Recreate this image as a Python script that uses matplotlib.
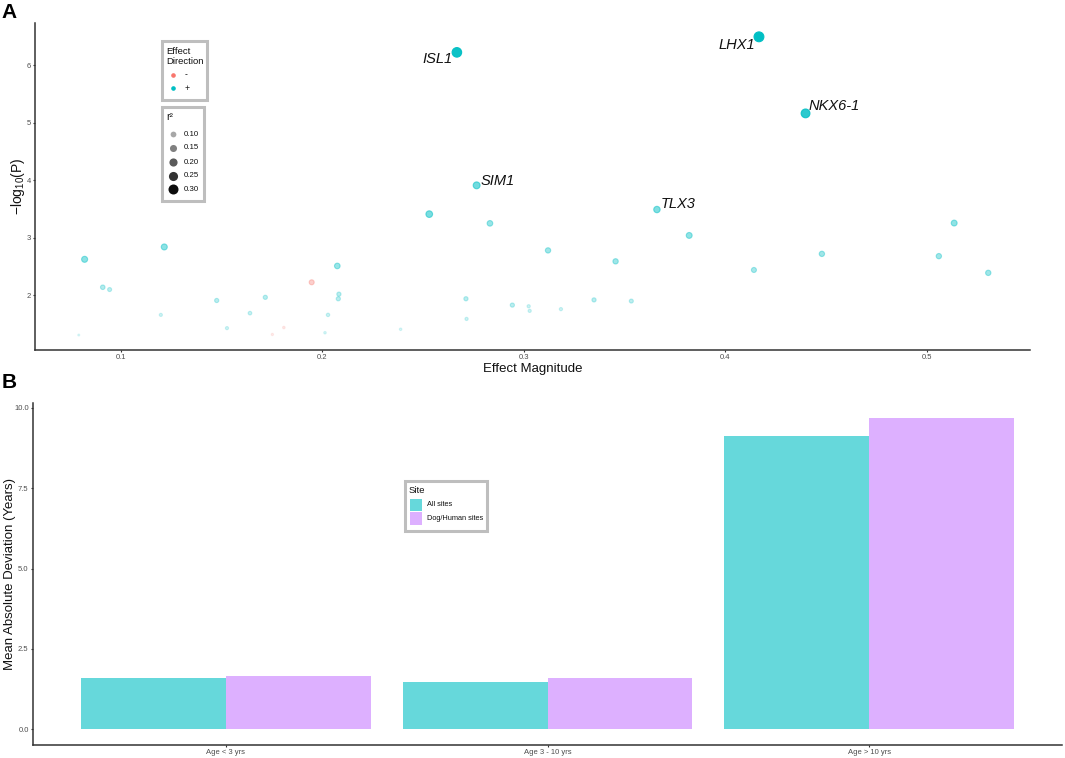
import matplotlib
matplotlib.use('Agg')
import matplotlib.pyplot as plt
import matplotlib.transforms as mtransforms
from matplotlib.patches import Rectangle
from matplotlib.lines import Line2D
import numpy as np

plt.rcParams['font.family'] = ['Liberation Sans', 'DejaVu Sans']
plt.rcParams['mathtext.fontset'] = 'custom'
plt.rcParams['mathtext.rm'] = 'Liberation Sans'
plt.rcParams['mathtext.it'] = 'Liberation Sans:italic'

# ---------------- Panel A data ----------------
pos_effect = [0.0822, 0.1217, 0.0912, 0.0946, 0.1200, 0.0793, 0.1477, 0.1528, 0.1642, 0.1718,
              0.2075, 0.2083, 0.2080, 0.2029, 0.2014, 0.2389, 0.2531, 0.2668, 0.2713, 0.2716,
              0.2766, 0.2832, 0.2943, 0.3024, 0.3029, 0.3120, 0.3184, 0.3348, 0.3455, 0.3533,
              0.3660, 0.3820, 0.4141, 0.4166, 0.4397, 0.4478, 0.5058, 0.5134, 0.5303]
pos_logp = [2.625, 2.84, 2.14, 2.10, 1.66, 1.31, 1.91, 1.43, 1.69, 1.965,
            2.51, 2.02, 1.94, 1.66, 1.35, 1.41, 3.41, 6.22, 1.94, 1.59,
            3.91, 3.25, 1.83, 1.81, 1.73, 2.78, 1.76, 1.92, 2.59, 1.90,
            3.49, 3.04, 2.44, 6.49, 5.16, 2.72, 2.68, 3.255, 2.39]
pos_r2 = [0.135, 0.135, 0.085, 0.070, 0.048, 0.026, 0.075, 0.048, 0.060, 0.075,
          0.120, 0.075, 0.075, 0.055, 0.035, 0.035, 0.160, 0.300, 0.075, 0.050,
          0.170, 0.120, 0.075, 0.050, 0.050, 0.110, 0.050, 0.075, 0.110, 0.070,
          0.150, 0.130, 0.100, 0.316, 0.260, 0.110, 0.110, 0.130, 0.110]
pos_gene = ['', '', '', '', '', '', '', '', '', '',
            '', '', '', '', '', '', '', 'ISL1', '', '',
            'SIM1', '', '', '', '', '', '', '', '', '',
            'TLX3', '', '', 'LHX1', 'NKX6-1', '', '', '', '']

neg_effect = [0.1753, 0.1810, 0.1948]
neg_logp = [1.32, 1.44, 2.226]
neg_r2 = [0.030, 0.035, 0.100]

direction_labels = ['-', '+']
r2_breaks = [0.10, 0.15, 0.20, 0.25, 0.30]
a_xticks = [0.1, 0.2, 0.3, 0.4, 0.5]
a_yticks = [2, 3, 4, 5, 6]

# ---------------- Panel B data ----------------
age_groups = ['Age < 3 yrs', 'Age 3 - 10 yrs', 'Age > 10 yrs']
mad_all_sites = [1.59, 1.47, 9.11]
mad_dog_human = [1.675, 1.60, 9.67]
site_labels = ['All sites', 'Dog/Human sites']
b_yticks = [0.0, 2.5, 5.0, 7.5, 10.0]

CYAN = '#00BFC4'
RED = '#F8766D'
PURPLE = '#C77CFF'
AXCOL = '#333333'
TICKCOL = '#4D4D4D'

W, H = 1065, 758
fig = plt.figure(figsize=(W / 100, H / 100), dpi=100)
px = mtransforms.Affine2D().scale(1 / W, -1 / H).translate(0, 1) + fig.transFigure


def add_axes_px(l, t, r, b):
    return fig.add_axes([l / W, 1 - b / H, (r - l) / W, (b - t) / H])


all_r2 = np.array(pos_r2 + neg_r2)
rmin, rmax = all_r2.min(), all_r2.max()
LW = 0.8
SIZE_K = 14.0


def size_of(r2):
    d_pt = SIZE_K * np.sqrt(np.asarray(r2)) - LW
    return d_pt ** 2


def alpha_of(r2):
    return np.clip(0.12 + 0.88 * (np.asarray(r2, dtype=float) - rmin) / (rmax - rmin), 0.0, 1.0)


def rgba(color, alphas):
    c = np.array(matplotlib.colors.to_rgba(color))
    out = np.tile(c, (len(alphas), 1))
    out[:, 3] = alphas
    return out


# ---------------- Panel A ----------------
axA = add_axes_px(35, 23, 1030, 350)
for eff, lp, r2, col in [(pos_effect, pos_logp, pos_r2, CYAN), (neg_effect, neg_logp, neg_r2, RED)]:
    cols = rgba(col, alpha_of(r2))
    axA.scatter(eff, lp, s=size_of(r2), c=cols, edgecolors=cols, linewidths=LW, zorder=3)

offsets = {'ISL1': (-3, -5, 'right'), 'LHX1': (-3, -6, 'right'), 'NKX6-1': (2, 5, 'left'),
           'SIM1': (3, 3, 'left'), 'TLX3': (3, 4, 'left')}
for e, l, g in zip(pos_effect, pos_logp, pos_gene):
    if g:
        dx, dy, ha = offsets[g]
        axA.annotate(g, (e, l), xytext=(dx, dy), textcoords='offset points',
                     ha=ha, va='center', fontsize=10.5, style='italic', color='#111111')

axA.set_xlim(0.0576, 0.551)
axA.set_ylim(1.05, 6.73)
axA.set_xticks(a_xticks)
axA.set_yticks(a_yticks)
axA.set_xticklabels([f'{v:.1f}' for v in a_xticks])
axA.set_yticklabels([str(v) for v in a_yticks])
axA.set_xlabel('Effect Magnitude', fontsize=9.5, color='#111111')
axA.set_ylabel(r'$-\mathrm{log}_{10}(\mathrm{P})$', fontsize=10, color='#111111')
axA.xaxis.set_label_coords(0.5, -0.058)
axA.xaxis.label.set_va('center')
axA.yaxis.set_label_coords(-0.017, 0.5)
axA.yaxis.label.set_va('center')

# ---------------- Panel B ----------------
axB = add_axes_px(33, 402.7, 1062, 745)
x = np.arange(1, len(age_groups) + 1)
axB.bar(x - 0.225, mad_all_sites, width=0.45, color=CYAN, alpha=0.6, linewidth=0)
axB.bar(x + 0.225, mad_dog_human, width=0.45, color=PURPLE, alpha=0.6, linewidth=0)
axB.set_xlim(0.4, 3.6)
ymax = max(mad_all_sites + mad_dog_human)
axB.set_ylim(-0.05 * ymax, 1.05 * ymax)
axB.set_xticks(x)
axB.set_xticklabels(age_groups)
axB.set_yticks(b_yticks)
axB.set_yticklabels([f'{v:.1f}' for v in b_yticks])
axB.set_ylabel('Mean Absolute Deviation (Years)', fontsize=9.5, color='#111111')
axB.yaxis.set_label_coords(-0.0225, 0.5)
axB.yaxis.label.set_va('center')

for ax in (axA, axB):
    for s in ('top', 'right'):
        ax.spines[s].set_visible(False)
    for s in ('left', 'bottom'):
        ax.spines[s].set_color(AXCOL)
        ax.spines[s].set_linewidth(1.1)
    ax.tick_params(axis='both', length=1.6, width=0.8, color=AXCOL, labelsize=5.5,
                   labelcolor=TICKCOL, pad=1.5)

# ---------------- Panel letters ----------------
fig.text(9.5, 13, 'A', transform=px, fontsize=15, fontweight='bold', ha='center', va='center')
fig.text(9.5, 383, 'B', transform=px, fontsize=15, fontweight='bold', ha='center', va='center')

# ---------------- Legend A: Effect Direction ----------------
LEG_EC = '#BEBEBE'
fig.add_artist(Rectangle((162, 41), 44.5, 59, transform=px, fill=True, facecolor='white',
                         edgecolor=LEG_EC, linewidth=2.2))
fig.text(166, 51.5, 'Effect', transform=px, fontsize=6.8, va='center', ha='left', color='#111111')
fig.text(166, 61, 'Direction', transform=px, fontsize=6.8, va='center', ha='left', color='#111111')
for yy, col, lab in [(75, RED, direction_labels[0]), (88, CYAN, direction_labels[1])]:
    fig.add_artist(Line2D([173], [yy], transform=px, marker='o', markersize=2.3,
                          markerfacecolor=col, markeredgecolor=col, linestyle='none'))
    fig.text(185, yy, lab, transform=px, fontsize=6.2, va='center', ha='left', color='#111111')

# ---------------- Legend A: r2 ----------------
fig.add_artist(Rectangle((162, 107), 42, 94, transform=px, fill=True, facecolor='white',
                         edgecolor=LEG_EC, linewidth=2.2))
fig.text(166, 117, 'r²', transform=px, fontsize=7.5, va='center', ha='left', color='#111111')
for yy, br in zip([134.3, 147.7, 162.0, 175.7, 189.3], r2_breaks):
    d_pt = 13.15 * np.sqrt(br)
    a = float(alpha_of(br))
    fig.add_artist(Line2D([173], [yy], transform=px, marker='o', markersize=d_pt,
                          markerfacecolor=(0, 0, 0, a), markeredgewidth=0, linestyle='none'))
    fig.text(184, yy, f'{br:.2f}', transform=px, fontsize=5.7, va='center', ha='left', color='#111111')

# ---------------- Legend B: Site ----------------
fig.add_artist(Rectangle((404.5, 481), 82.5, 49.5, transform=px, fill=True, facecolor='white',
                         edgecolor=LEG_EC, linewidth=2.2))
fig.text(409, 490.5, 'Site', transform=px, fontsize=6.8, va='center', ha='left', color='#111111')
for yy, col, lab in [(498.5, CYAN, site_labels[0]), (512, PURPLE, site_labels[1])]:
    fig.add_artist(Rectangle((410, yy), 11.7, 12.5, transform=px, facecolor=col, alpha=0.6,
                             edgecolor='none'))
    fig.text(427, yy + 6.3, lab, transform=px, fontsize=5.3, va='center', ha='left', color='#111111')

fig.savefig('out.png', dpi=100, facecolor='white')
